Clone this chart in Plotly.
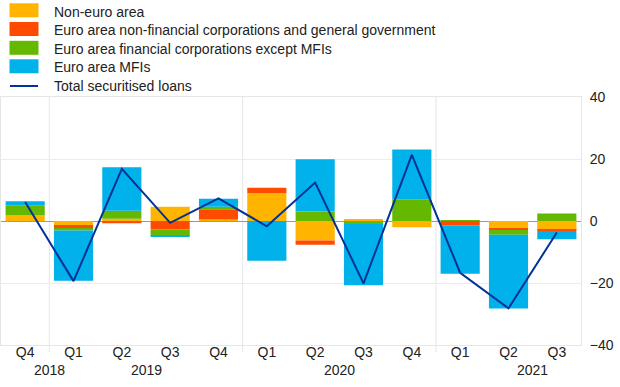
import plotly.graph_objects as go

periods = ["2018 Q4", "2019 Q1", "2019 Q2", "2019 Q3", "2019 Q4", "2020 Q1",
           "2020 Q2", "2020 Q3", "2020 Q4", "2021 Q1", "2021 Q2", "2021 Q3"]
quarter_labels = ["Q4", "Q1", "Q2", "Q3", "Q4", "Q1", "Q2", "Q3", "Q4", "Q1", "Q2", "Q3"]
year_labels = ["2018", "2019", "2020", "2021"]
year_label_pos = [0.5, 2.5, 6.5, 10.5]
year_dividers = [0.5, 4.5, 8.5]

non_euro = [1.9, -1.3, 0.7, 4.6, 0.6, 9.0, -6.3, 0.6, -2.0, 0.0, -2.5, -2.8]
nfc_gov = [0.0, -1.2, -0.7, -2.7, 3.2, 1.7, -1.4, 0.0, 0.0, -1.4, -0.4, -0.4]
fin_ex_mfi = [3.2, -0.6, 2.6, -1.9, 0.8, 0.0, 3.1, -1.0, 7.0, 0.3, -1.5, 2.4]
mfis = [1.3, -16.2, 14.0, -0.6, 2.6, -12.8, 16.8, -19.7, 16.1, -15.6, -23.8, -2.7]
total = [6.1, -19.4, 16.8, -0.6, 7.3, -1.7, 12.4, -20.1, 21.3, -16.7, -28.2, -3.7]

series = [
    ("Non-euro area", non_euro, "#FFB400"),
    ("Euro area non-financial corporations and general government", nfc_gov, "#FF4B00"),
    ("Euro area financial corporations except MFIs", fin_ex_mfi, "#65B800"),
    ("Euro area MFIs", mfis, "#00B1EA"),
]
total_name = "Total securitised loans"
line_color = "#003299"
font_family = "Liberation Sans, Arial, sans-serif"
text_color = "#222222"

W, H = 620, 387
M_L, M_R, M_T, M_B = 1, 39, 97, 42
PW, PH = W - M_L - M_R, H - M_T - M_B


def px_x(px):
    return (px - M_L) / PW


def px_y(py):
    return (H - M_B - py) / PH


fig = go.Figure()
for name, vals, col in series:
    fig.add_trace(go.Bar(x=periods, y=vals, name=name, marker_color=col,
                         marker_line_width=0))
fig.add_trace(go.Scatter(x=periods, y=total, name=total_name, mode="lines",
                         line=dict(color=line_color, width=2)))

shapes = []
annotations = []
for xv in year_dividers:
    shapes.append(dict(type="line", xref="x", yref="paper", x0=xv, x1=xv, y0=px_y(352), y1=1,
                       line=dict(color="#e6e6e6", width=1), layer="below"))

for lab, xv in zip(year_labels, year_label_pos):
    annotations.append(dict(text=lab, x=xv, xref="x", y=px_y(370), yref="paper",
                            yanchor="middle", xanchor="center", showarrow=False,
                            font=dict(size=14, color=text_color, family=font_family)))

# hand-placed legend
leg_swatch_y = [10.3, 29.0, 47.8, 66.3]
leg_text_y = [11.5, 30.0, 48.7, 67.3, 86.0]
for i, (name, vals, col) in enumerate(series):
    cy = leg_swatch_y[i]
    shapes.append(dict(type="rect", xref="paper", yref="paper",
                       x0=px_x(9.5), x1=px_x(38.5), y0=px_y(cy + 7), y1=px_y(cy - 7),
                       fillcolor=col, line=dict(width=0)))
    annotations.append(dict(text=name, x=px_x(52), xref="paper", y=px_y(leg_text_y[i]),
                            yref="paper", xanchor="left", yanchor="middle", showarrow=False,
                            font=dict(size=14, color=text_color, family=font_family)))
shapes.append(dict(type="line", xref="paper", yref="paper",
                   x0=px_x(10), x1=px_x(38), y0=px_y(86), y1=px_y(86),
                   line=dict(color=line_color, width=2)))
annotations.append(dict(text=total_name, x=px_x(52), xref="paper", y=px_y(leg_text_y[4]),
                        yref="paper", xanchor="left", yanchor="middle", showarrow=False,
                        font=dict(size=14, color=text_color, family=font_family)))

fig.update_layout(
    width=W, height=H,
    margin=dict(l=M_L, r=M_R, t=M_T, b=M_B, autoexpand=False),
    barmode="relative", bargap=0.19,
    showlegend=False,
    plot_bgcolor="white", paper_bgcolor="white",
    font=dict(family=font_family, size=14, color=text_color),
    shapes=shapes, annotations=annotations,
    xaxis=dict(type="category", tickvals=periods, ticktext=quarter_labels,
               range=[-0.5, 11.5], showgrid=False, showline=True, mirror=True,
               linecolor="#e6e6e6", ticks="", tickfont=dict(size=14),
               ticklabelstandoff=-6),
    yaxis=dict(side="right", range=[-40, 40], dtick=20, showgrid=True, gridcolor="#ececec",
               zeroline=True, zerolinecolor="#999999", zerolinewidth=1,
               showline=True, mirror=True, linecolor="#e6e6e6", ticks="",
               ticklabelstandoff=5, tickfont=dict(size=14)),
)

fig.write_html("out.html", config={"displayModeBar": False},
               post_script="document.body.style.margin='0';document.body.style.padding='0';")
